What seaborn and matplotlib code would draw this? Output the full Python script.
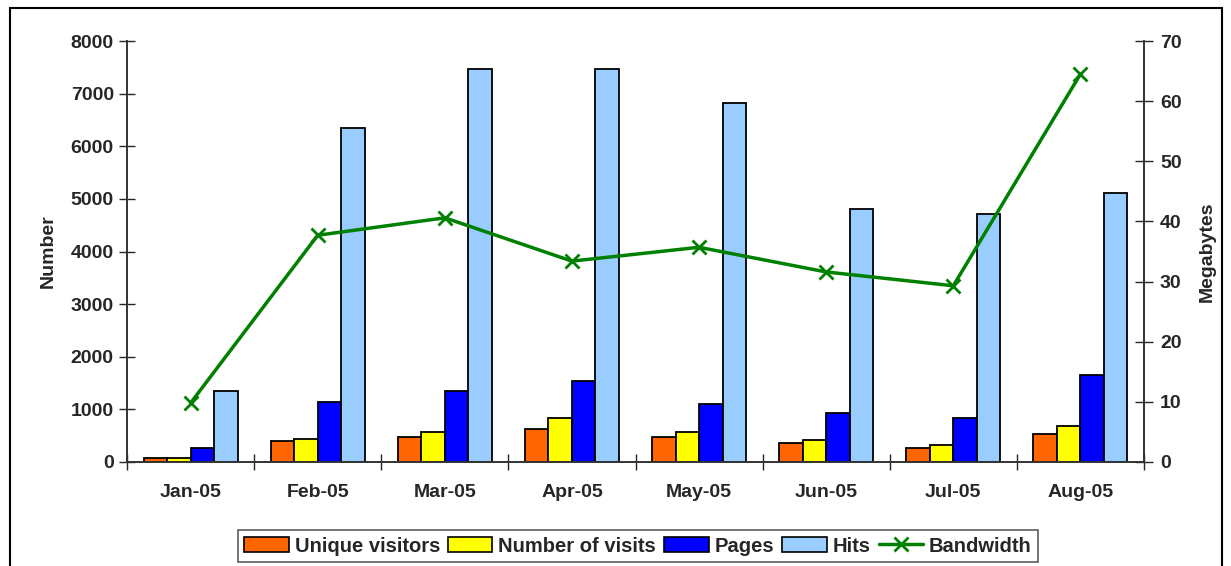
import numpy as np
import pandas as pd
import seaborn as sns
import matplotlib
matplotlib.use("Agg")
import matplotlib.pyplot as plt
from matplotlib.patches import Rectangle, Patch
from matplotlib.lines import Line2D
from matplotlib.ticker import FixedLocator, MultipleLocator

# Monthly web statistics
months = ["Jan-05", "Feb-05", "Mar-05", "Apr-05", "May-05", "Jun-05", "Jul-05", "Aug-05"]
unique_visitors = [85, 390, 475, 635, 475, 360, 265, 540]
number_of_visits = [80, 445, 570, 835, 570, 412, 330, 685]
pages = [260, 1140, 1355, 1535, 1110, 937, 836, 1660]
hits = [1345, 6345, 7460, 7460, 6820, 4810, 4720, 5110]
bandwidth_mb = [9.8, 37.7, 40.6, 33.4, 35.7, 31.6, 29.3, 64.5]

series_names = ["Unique visitors", "Number of visits", "Pages", "Hits"]
series_colors = ["#FF6600", "#FFFF00", "#0000FF", "#99CCFF"]
line_color = "#008000"
FS = 14

sns.set_theme(style="white")
plt.rcParams["font.family"] = ["Liberation Sans", "DejaVu Sans"]
plt.rcParams["font.weight"] = "bold"

df = pd.DataFrame({
    "Month": np.tile(months, 4),
    "Series": np.repeat(series_names, len(months)),
    "Value": unique_visitors + number_of_visits + pages + hits,
})

fig = plt.figure(figsize=(12.31, 5.66), dpi=100)
ax = fig.add_axes([127 / 1231, 1 - 462 / 566, (1144 - 127) / 1231, (462 - 41) / 566])

sns.barplot(data=df, x="Month", y="Value", hue="Series", hue_order=series_names,
            palette=series_colors, order=months, width=0.74, gap=0,
            edgecolor="black", linewidth=1.3, saturation=1, ax=ax, legend=False)

ax.set_ylim(0, 8000)
ax.set_xlim(-0.5, len(months) - 0.5)
ax.yaxis.set_major_locator(MultipleLocator(1000))
ax.set_xlabel("")
ax.set_ylabel("Number", fontsize=FS, fontweight="bold", labelpad=10)
ax.tick_params(axis="y", direction="inout", length=11, width=1, labelsize=FS, pad=4, left=True)
ax.tick_params(axis="x", which="major", length=0, labelsize=FS, pad=16)
ax.xaxis.set_minor_locator(FixedLocator(np.arange(-0.5, len(months) + 0.5, 1.0)))
ax.tick_params(axis="x", which="minor", direction="inout", length=11, width=1, bottom=True)
for lab in ax.get_xticklabels() + ax.get_yticklabels():
    lab.set_fontweight("bold")

ax.spines["top"].set_visible(False)
for side in ["left", "bottom", "right"]:
    ax.spines[side].set_color("#333333")
    ax.spines[side].set_linewidth(1.2)

# Bandwidth on secondary axis
ax2 = ax.twinx()
sns.pointplot(x=months, y=bandwidth_mb, order=months, color=line_color, markers="x",
              linestyles="-", ax=ax2, errorbar=None,
              markersize=10, markeredgewidth=2, linewidth=2.5)
ax2.set_xlim(-0.5, len(months) - 0.5)
ax2.set_ylim(0, 70)
ax2.yaxis.set_major_locator(MultipleLocator(10))
ax2.set_ylabel("Megabytes", fontsize=FS, fontweight="bold", rotation=90, labelpad=12)
ax2.tick_params(axis="y", direction="inout", length=13, width=1, labelsize=FS, pad=5, right=True)
for lab in ax2.get_yticklabels():
    lab.set_fontweight("bold")
ax2.spines["top"].set_visible(False)
for side in ["left", "bottom", "right"]:
    ax2.spines[side].set_color("#333333")
    ax2.spines[side].set_linewidth(1.2)
ax2.grid(False)

# Legend
handles = [Patch(facecolor=c, edgecolor="black", linewidth=1.2) for c in series_colors]
handles.append(Line2D([0], [0], color=line_color, lw=2.5, marker="x",
                      markersize=10, markeredgewidth=2))
labels = series_names + ["Bandwidth"]
leg = fig.legend(handles, labels, loc="center", bbox_to_anchor=(638 / 1231, 1 - 546 / 566),
                 ncol=5, frameon=True, fancybox=False,
                 handlelength=2.2, handleheight=0.7, handletextpad=0.3, columnspacing=0.4,
                 borderpad=0.3, prop={"weight": "bold", "size": 14.5})
leg.get_frame().set_edgecolor("#333333")
leg.get_frame().set_linewidth(1.2)

# Outer chart frame
fig.patches.append(Rectangle((10 / 1231, -0.05), 1212 / 1231, 1.05 - 8 / 566,
                             transform=fig.transFigure, fill=False,
                             edgecolor="black", linewidth=1.5))

fig.savefig("out.png", dpi=100)
